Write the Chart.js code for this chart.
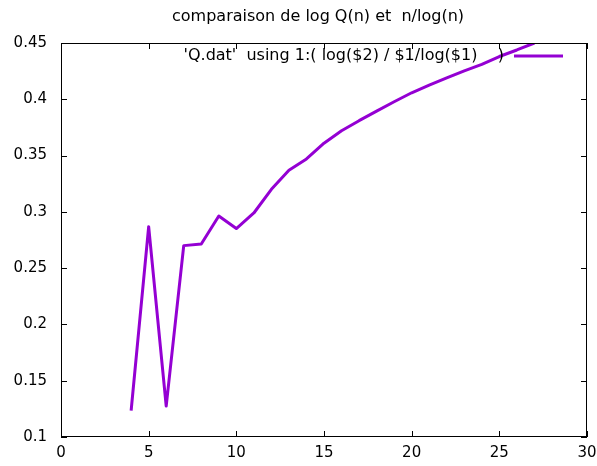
<!DOCTYPE html>
<html>
<head>
<meta charset="utf-8">
<script src="https://cdn.jsdelivr.net/npm/chart.js@4"></script>
<style>
  html, body { margin: 0; padding: 0; background: #fff; }
  #wrap { width: 597px; height: 466px; }
</style>
</head>
<body>
<div id="wrap"><canvas id="chart" width="597" height="466"></canvas></div>
<script>
const titleText = "comparaison de log Q(n) et  n/log(n)";
const seriesLabel = "'Q.dat'  using 1:( log($2) / $1/log($1)    )";
const nValues = [4, 5, 6, 7, 8, 9, 10, 11, 12, 13, 14, 15, 16, 17, 18, 19, 20, 21, 22, 23, 24, 25, 26, 27];
const ratioValues = [0.1234, 0.2868, 0.1275, 0.2700, 0.2715, 0.2963, 0.2852, 0.2990, 0.3200, 0.3370,
  0.3470, 0.3610, 0.3720, 0.3810, 0.3895, 0.3978, 0.4058, 0.4125, 0.4190, 0.4252, 0.4310, 0.4380, 0.4438, 0.4500];
const xTicks = [0, 5, 10, 15, 20, 25, 30];
const yTicks = [0.1, 0.15, 0.2, 0.25, 0.3, 0.35, 0.4, 0.45];

const FONT = "'DejaVu Sans', sans-serif";
const LINE = "#9400d3";

// gnuplot style: inward ticks on all four borders, title and key drawn inside
const gnuplotLook = {
  id: "gnuplotLook",
  afterDraw(chart) {
    const { ctx, chartArea: a, scales } = chart;
    ctx.save();
    ctx.strokeStyle = "#000";
    ctx.lineWidth = 1;
    ctx.strokeRect(a.left + 0.5, a.top + 0.5, a.right - a.left - 1, a.bottom - a.top - 1);
    ctx.beginPath();
    xTicks.forEach((v) => {
      const px = Math.round(scales.x.getPixelForValue(v)) + 0.5;
      ctx.moveTo(px, a.bottom); ctx.lineTo(px, a.bottom - 6);
      ctx.moveTo(px, a.top); ctx.lineTo(px, a.top + 6);
    });
    yTicks.forEach((v) => {
      const py = Math.round(scales.y.getPixelForValue(v)) + 0.5;
      ctx.moveTo(a.left, py); ctx.lineTo(a.left + 6, py);
      ctx.moveTo(a.right, py); ctx.lineTo(a.right - 6, py);
    });
    ctx.stroke();

    ctx.fillStyle = "#000";
    ctx.font = "16px " + FONT;
    ctx.textAlign = "center";
    ctx.textBaseline = "middle";
    ctx.fillText(titleText, 318, 17);

    const ly = a.top + 13;
    ctx.textAlign = "right";
    ctx.fillText(seriesLabel, a.right - 83, ly);
    ctx.strokeStyle = LINE;
    ctx.lineWidth = 3;
    ctx.beginPath();
    ctx.moveTo(a.right - 73, ly);
    ctx.lineTo(a.right - 24, ly);
    ctx.stroke();
    ctx.restore();
  }
};

new Chart(document.getElementById("chart"), {
  type: "line",
  data: {
    labels: nValues,
    datasets: [{
      label: seriesLabel,
      data: nValues.map((n, i) => ({ x: n, y: ratioValues[i] })),
      borderColor: LINE,
      borderWidth: 3,
      borderJoinStyle: "round",
      pointRadius: 0,
      tension: 0,
      fill: false
    }]
  },
  options: {
    responsive: false,
    animation: false,
    layout: { padding: { left: 0, right: 10, top: 43, bottom: 0 } },
    plugins: { legend: { display: false }, title: { display: false }, tooltip: { enabled: false } },
    scales: {
      x: {
        type: "linear", min: 0, max: 30,
        afterBuildTicks: (s) => { s.ticks = xTicks.map((v) => ({ value: v })); },
        afterFit: (s) => { s.height = 29; s.paddingLeft = 0; s.paddingRight = 0; },
        grid: { display: false, drawTicks: false },
        border: { display: false },
        ticks: { color: "#000", font: { family: FONT, size: 15 }, padding: 7, maxRotation: 0 }
      },
      y: {
        type: "linear", min: 0.1, max: 0.45,
        afterBuildTicks: (s) => { s.ticks = yTicks.map((v) => ({ value: v })); },
        afterFit: (s) => { s.width = 61; },
        grid: { display: false, drawTicks: false },
        border: { display: false },
        ticks: { color: "#000", font: { family: FONT, size: 15 }, padding: 14,
          callback: (v) => String(Math.round(v * 100) / 100) }
      }
    }
  },
  plugins: [gnuplotLook]
});
</script>
</body>
</html>
